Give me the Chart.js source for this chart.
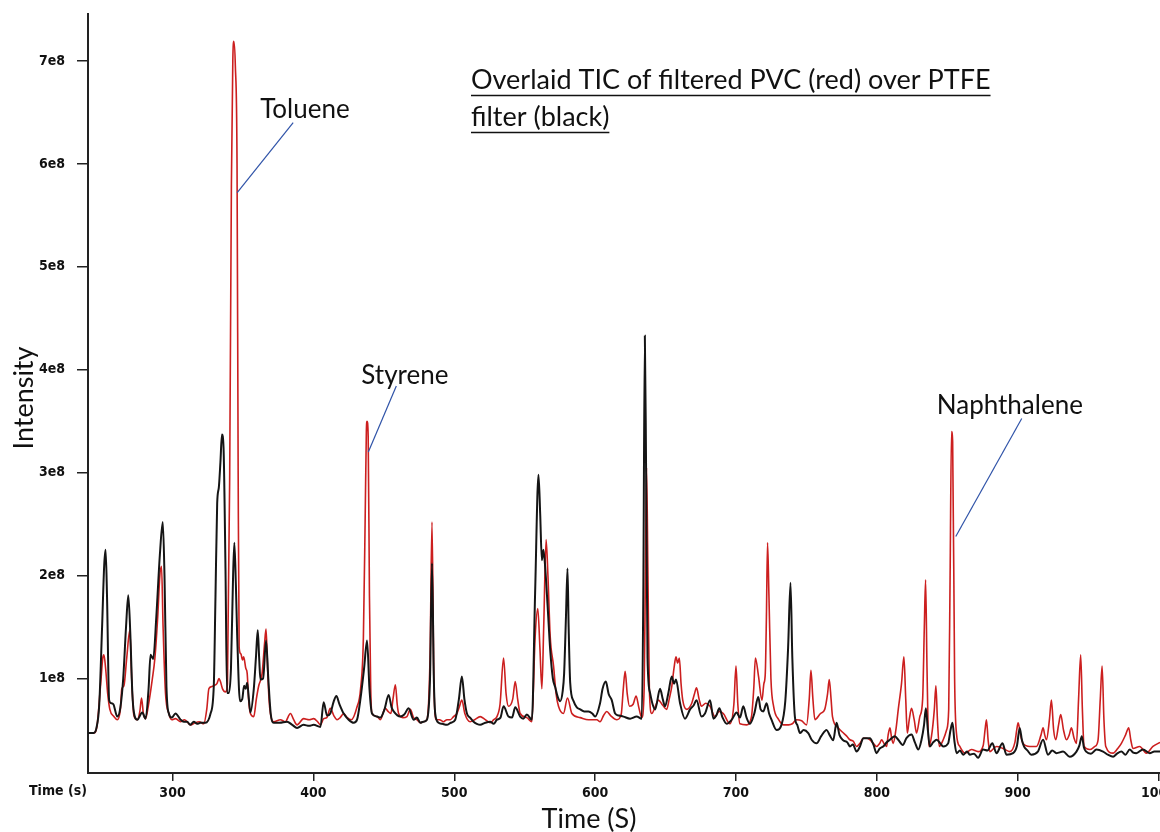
<!DOCTYPE html>
<html>
<head>
<meta charset="utf-8">
<script src="https://cdn.jsdelivr.net/npm/chart.js@4.4.1/dist/chart.umd.min.js"></script>
<style>
  html, body { margin: 0; padding: 0; background: #fff; overflow: hidden; width: 1160px; height: 832px; }
  #wrap { position: absolute; left: 0; top: 0; width: 1200px; height: 832px; }
</style>
</head>
<body>
<div id="wrap"><canvas id="tic" width="1200" height="832"></canvas></div>
<script>
// Retention time (s) and total ion current (units of 1e8) for the PTFE filter blank (black trace)
const ptfeTime = [
  240, 244, 246, 248, 250, 251.5, 252.5, 253.5, 255, 256.5, 258, 260.8, 263, 265, 267, 268.6, 270, 271.5, 272.6, 275,
  278.5, 280.9, 283, 284.4, 286.3, 288.5, 291, 293.1, 294.3, 295.7, 297.4, 299.5, 302.1, 305.7, 308, 310.4, 312.5, 315.1, 317.5, 319.9,
  323.4, 327, 329.3, 330.5, 331.7, 332.9, 334, 335.1, 336.2, 337.6, 338.7, 340, 341.5, 343, 343.9, 345, 345.9, 347.9, 349.5, 350.8,
  352, 353, 354.2, 355.3, 357.7, 359.2, 360.5, 361.5, 362.4, 364.3, 366.4, 368, 369.7, 371.8, 376, 381.3, 385, 388.4, 393, 397,
  400.2, 405, 407.3, 409.7, 412, 414.5, 416.3, 418.5, 421.5, 425, 428.6, 431, 433.3, 436, 438.1, 439.8, 441.6, 445.2, 447.5, 450.5,
  453.4, 455.5, 457, 461.7, 464.5, 467.6, 471.1, 473.5, 475.9, 478, 480.6, 482.8, 484.2, 485.5, 486.5, 488.9, 491.5, 494.8, 497.5, 500.7,
  503.3, 505.4, 507.2, 509, 511.2, 513.7, 516, 518.4, 522, 525.5, 528, 530.3, 532.8, 535, 538.5, 541, 543.3, 546.8, 549, 551.5,
  555.1, 557.4, 559.8, 561, 562.2, 563.3, 564.5, 566.3, 568.1, 570, 571.6, 573.5, 575.2, 577, 578, 579.3, 580.4, 581.2, 582.3, 584.7,
  587, 589.4, 592.2, 595.3, 598, 600, 603.5, 605.3, 607.6, 609.6, 611.8, 614.2, 617, 620.1, 624.8, 629.5, 633.1, 634.2, 635.3, 636.2,
  637.2, 639, 640.8, 642.6, 646.1, 648, 649.6, 652, 654.4, 656, 657.4, 660.3, 663.8, 667.4, 670, 672, 675.5, 678, 681.6, 684,
  686, 688.2, 690.5, 693.4, 697, 700.5, 702.8, 705.2, 707.5, 709.9, 713, 715.8, 717.5, 719.4, 721.7, 723.5, 725.2, 728.8, 732.3, 735,
  737, 738.7, 740, 741.8, 743.5, 745.4, 748, 751.3, 753.7, 757.2, 760.5, 764.3, 766.5, 769, 771.4, 773.5, 776.1, 779, 780.9, 783,
  785.6, 788, 790.4, 792.7, 795.1, 797.5, 799.8, 802, 804.5, 807, 809.3, 812.8, 815.2, 818.4, 821, 824.6, 827, 829.4, 831.7, 833.5,
  834.8, 836.2, 837.6, 840, 842.5, 845, 847.1, 850.6, 852.3, 853.7, 855, 856.6, 859, 861.3, 864, 866, 869, 871.9, 875.4, 878.5,
  882, 884.9, 889.2, 892, 896.7, 899.5, 901.4, 903, 904.5, 907, 909.6, 914.3, 918, 921.5, 924.5, 927.5, 932.2, 936.9, 941.7, 943.8,
  945.5, 947, 948.6, 952, 955.9, 960.6, 964, 967.7, 970.5, 973.6, 976.5, 979.5, 982, 984.2, 988.9, 993.7, 997, 1001
];
const ptfeIntensity = [
  0.47, 0.47, 0.52, 0.75, 1.5, 2.1, 2.25, 1.8, 0.79, 0.76, 0.75, 0.63, 0.72, 1.0, 1.5, 1.81, 1.45, 0.85, 0.67, 0.6,
  0.67, 0.61, 0.9, 1.23, 1.19, 1.6, 2.2, 2.52, 2.0, 0.92, 0.66, 0.62, 0.66, 0.6, 0.58, 0.58, 0.55, 0.58, 0.56, 0.57,
  0.57, 0.66, 0.93, 1.8, 2.7, 2.86, 3.1, 3.37, 3.25, 2.07, 0.86, 0.86, 1.1, 2.0, 2.32, 1.9, 1.42, 0.78, 0.8, 0.93,
  0.9, 0.96, 0.8, 0.67, 0.9, 1.2, 1.47, 1.2, 0.99, 1.0, 1.37, 1.0, 0.66, 0.57, 0.57, 0.58, 0.55, 0.52, 0.55, 0.54,
  0.55, 0.53, 0.77, 0.64, 0.66, 0.78, 0.83, 0.75, 0.66, 0.6, 0.57, 0.6, 0.79, 1.1, 1.37, 0.9, 0.66, 0.63, 0.62, 0.7,
  0.84, 0.72, 0.68, 0.63, 0.65, 0.71, 0.6, 0.62, 0.57, 0.58, 0.6, 1.0, 2.12, 1.0, 0.66, 0.57, 0.56, 0.55, 0.57, 0.6,
  0.8, 1.02, 0.8, 0.66, 0.62, 0.58, 0.56, 0.55, 0.57, 0.58, 0.56, 0.6, 0.62, 0.73, 0.63, 0.62, 0.72, 0.63, 0.61, 0.65,
  0.6, 1.83, 2.98, 2.6, 2.15, 2.25, 2.09, 1.7, 1.28, 1.0, 0.92, 0.82, 0.78, 0.88, 1.05, 1.6, 2.07, 1.5, 0.96, 0.78,
  0.72, 0.7, 0.68, 0.68, 0.66, 0.63, 0.76, 0.9, 0.97, 0.85, 0.79, 0.66, 0.64, 0.63, 0.61, 0.63, 0.61, 1.8, 4.33, 3.0,
  1.2, 0.86, 0.75, 0.7, 0.9, 0.8, 0.73, 0.86, 1.02, 0.95, 0.99, 0.76, 0.61, 0.7, 0.74, 0.79, 0.63, 0.66, 0.79, 0.61,
  0.64, 0.71, 0.62, 0.56, 0.6, 0.67, 0.62, 0.73, 0.62, 0.56, 0.66, 0.82, 0.7, 0.68, 0.76, 0.66, 0.6, 0.5, 0.55, 0.78,
  1.3, 1.93, 1.2, 0.63, 0.55, 0.47, 0.5, 0.47, 0.405, 0.37, 0.44, 0.5, 0.45, 0.4, 0.57, 0.45, 0.4, 0.38, 0.34, 0.36,
  0.29, 0.34, 0.42, 0.42, 0.42, 0.36, 0.275, 0.32, 0.34, 0.38, 0.405, 0.44, 0.405, 0.355, 0.42, 0.455, 0.38, 0.31, 0.405, 0.55,
  0.71, 0.5, 0.34, 0.38, 0.405, 0.37, 0.34, 0.37, 0.5, 0.57, 0.4, 0.275, 0.3, 0.26, 0.29, 0.26, 0.27, 0.23, 0.31, 0.3,
  0.37, 0.275, 0.37, 0.26, 0.275, 0.35, 0.52, 0.4, 0.34, 0.3, 0.26, 0.29, 0.405, 0.26, 0.3, 0.275, 0.29, 0.24, 0.29, 0.35,
  0.44, 0.33, 0.29, 0.27, 0.31, 0.29, 0.26, 0.24, 0.27, 0.29, 0.26, 0.31, 0.28, 0.275, 0.31, 0.275, 0.29, 0.29
];

// Retention time (s) and total ion current (units of 1e8) for the filtered PVC sample (red trace)
const pvcTime = [
  240, 244, 246.5, 249, 250.5, 251.3, 252.5, 254, 255.5, 258.4, 260.8, 263, 264, 265.5, 267.5, 269.7, 271, 272.6, 275, 276.8,
  278, 279.3, 280.9, 283, 285.6, 287.5, 289.5, 291, 292.2, 293.3, 295, 297.4, 299.5, 302.1, 305.7, 308.5, 312.8, 316, 319, 322.2,
  324.3, 325.8, 327.5, 329.3, 331.5, 333, 334, 335.5, 337.6, 339, 340.6, 341.8, 342.8, 343.5, 344.6, 345.8, 346.6, 347.3, 348.5, 349.7,
  350.5, 352, 353, 354, 355.3, 357.7, 359.5, 361.2, 363.6, 365.4, 366.4, 367.5, 368.5, 369.5, 371.8, 376.6, 380, 383.7, 386, 388.4,
  393.1, 397, 400.2, 403, 405, 407.3, 409.5, 412, 414.5, 416.8, 419, 421.5, 424, 427, 430.9, 433.5, 435.5, 436.8, 437.6, 438.1,
  438.9, 439.8, 440.7, 441.6, 445.2, 447.5, 451, 453, 455, 456.5, 458.2, 459.5, 460.5, 463.5, 466.4, 468.8, 471.1, 473.5, 475.9, 478,
  480.6, 482.8, 484.2, 485.5, 487.2, 489.5, 492.4, 494.8, 497.2, 499.5, 501.9, 503.5, 505.4, 507.5, 511.3, 514.5, 518.4, 522, 525.5, 528,
  530.3, 532.5, 535, 536.8, 538.5, 541.5, 543.3, 545, 546.8, 551.5, 555.1, 557.4, 559.3, 560.8, 562.2, 563.5, 565.2, 566.5, 568.1, 570.5,
  572.3, 574, 577.5, 580.4, 583.5, 589.4, 595.3, 601.2, 603.5, 606, 608.3, 611, 615.4, 618.5, 620, 621.3, 622.8, 624.4, 627, 629.1,
  631, 633.1, 634.8, 635.7, 636.5, 637.5, 638.5, 640.2, 642.5, 644.9, 648, 650.8, 652.6, 654.4, 656, 657.4, 658.6, 659.8, 661, 662.2,
  665, 668.6, 670.5, 672, 673.8, 675.5, 678.5, 681.6, 685.1, 688, 691, 695.7, 698.5, 700, 701.3, 702.8, 707.5, 711, 712.6, 713.8,
  716, 718.4, 719.8, 720.8, 721.6, 722.4, 723.4, 724.8, 726.7, 730.3, 733.8, 737.4, 740, 743, 746.6, 750.1, 752, 753.2, 754.6, 756,
  760, 763, 765, 766.2, 767.5, 768.5, 772.7, 775.5, 778.6, 780.9, 783.3, 785.6, 788, 790.4, 792.7, 795.1, 797.5, 799.8, 802, 803.4,
  805, 806.9, 808, 809.3, 810.5, 811.6, 813.5, 815.2, 817.5, 819.2, 820.5, 821.6, 823, 824.6, 826.5, 828.2, 830.5, 832.5, 833.7, 834.6,
  835.6, 836.9, 838.8, 840.8, 841.9, 843, 844.3, 847.1, 849.5, 851, 852, 853, 853.8, 855.2, 856.5, 858.9, 862.5, 867.2, 871.9, 875.5,
  876.8, 877.8, 879, 880.2, 884.9, 889.6, 894.4, 898, 899.3, 900.3, 902, 903.8, 908.6, 913.3, 916.5, 918, 919.2, 920.4, 922.5, 923.9,
  925.5, 927, 929, 930.5, 932.5, 934.6, 936.5, 938.1, 940, 941.7, 943.2, 944.7, 945.9, 947.1, 951.1, 954.7, 957, 958.6, 959.9, 961.2,
  962.5, 967.7, 971, 973.6, 976.5, 978.8, 980.3, 981.8, 986.6, 991.3, 996, 1001
];
const pvcIntensity = [
  0.47, 0.47, 0.55, 0.95, 1.2, 1.23, 1.1, 0.85, 0.7, 0.63, 0.6, 0.7, 0.9, 0.93, 1.2, 1.47, 1.0, 0.64, 0.6, 0.68,
  0.81, 0.66, 0.61, 0.75, 0.99, 1.2, 1.6, 2.0, 2.09, 1.5, 0.86, 0.66, 0.6, 0.61, 0.58, 0.6, 0.55, 0.57, 0.58, 0.56,
  0.7, 0.9, 0.92, 0.93, 0.95, 1.0, 0.97, 0.9, 0.87, 0.95, 3.0, 5.8, 7.0, 7.19, 6.95, 6.0, 3.0, 1.3, 1.24, 1.18,
  1.21, 1.1, 1.05, 0.8, 0.66, 0.63, 0.8, 0.93, 1.05, 1.35, 1.48, 1.1, 0.8, 0.66, 0.58, 0.6, 0.58, 0.66, 0.6, 0.55,
  0.61, 0.6, 0.61, 0.58, 0.55, 0.61, 0.62, 0.71, 0.64, 0.6, 0.62, 0.66, 0.62, 0.6, 0.72, 0.9, 1.4, 2.6, 3.4, 3.5,
  3.35, 1.8, 0.9, 0.66, 0.63, 0.6, 0.71, 0.68, 0.66, 0.8, 0.94, 0.75, 0.66, 0.62, 0.63, 0.7, 0.62, 0.6, 0.57, 0.58,
  0.6, 1.2, 2.52, 1.0, 0.6, 0.6, 0.58, 0.6, 0.6, 0.63, 0.66, 0.72, 0.79, 0.66, 0.58, 0.6, 0.63, 0.6, 0.57, 0.6,
  0.63, 0.75, 1.2, 0.85, 0.73, 0.8, 0.97, 0.8, 0.66, 0.62, 0.58, 1.4, 1.68, 1.3, 0.9, 1.5, 2.35, 2.0, 1.41, 1.12,
  0.85, 0.73, 0.66, 0.81, 0.66, 0.62, 0.6, 0.6, 0.58, 0.64, 0.68, 0.64, 0.6, 0.65, 0.9, 1.07, 0.85, 0.73, 0.75, 0.83,
  0.72, 0.62, 0.9, 2.0, 3.05, 2.0, 0.9, 0.66, 0.72, 0.79, 0.74, 0.7, 0.8, 0.92, 1.1, 1.21, 1.15, 1.2, 0.95, 0.79,
  0.7, 0.76, 0.85, 0.91, 0.8, 0.73, 0.76, 0.73, 0.63, 0.68, 0.66, 0.56, 0.75, 1.12, 0.75, 0.56, 0.55, 0.63, 0.9, 1.2,
  1.02, 0.79, 0.95, 1.05, 1.6, 2.32, 1.8, 1.0, 0.73, 0.6, 0.55, 0.55, 0.56, 0.6, 0.59, 0.55, 0.8, 1.08, 0.8, 0.6,
  0.66, 0.7, 0.85, 0.99, 0.8, 0.63, 0.52, 0.48, 0.44, 0.405, 0.39, 0.34, 0.37, 0.42, 0.42, 0.405, 0.37, 0.34, 0.37, 0.405,
  0.37, 0.34, 0.45, 0.52, 0.42, 0.37, 0.5, 0.7, 0.95, 1.21, 0.8, 0.47, 0.6, 0.71, 0.6, 0.47, 0.63, 0.8, 1.5, 1.96,
  1.1, 0.34, 0.44, 0.7, 0.93, 0.6, 0.34, 0.405, 0.5, 0.7, 2.0, 3.4, 3.3, 1.0, 0.47, 0.34, 0.275, 0.31, 0.29, 0.35,
  0.5, 0.6, 0.4, 0.29, 0.34, 0.32, 0.29, 0.38, 0.5, 0.57, 0.45, 0.37, 0.34, 0.34, 0.45, 0.52, 0.45, 0.405, 0.6, 0.79,
  0.5, 0.405, 0.55, 0.65, 0.5, 0.405, 0.45, 0.52, 0.42, 0.37, 0.8, 1.23, 0.7, 0.34, 0.31, 0.34, 0.4, 0.8, 1.12, 0.6,
  0.34, 0.275, 0.32, 0.37, 0.45, 0.52, 0.4, 0.32, 0.34, 0.275, 0.34, 0.38
];

// Axis ticks
const timeTicks = [300, 400, 500, 600, 700, 800, 900, 1000];
const intensityTicks = [1, 2, 3, 4, 5, 6, 7];

// Labelled compounds: where each leader line meets its peak
const compoundNames = ['Toluene', 'Styrene', 'Naphthalene'];
const compoundTimes = [345.9, 439.0, 856.0];
const compoundIntensities = [5.72, 3.2, 2.38];

// Leader geometry and text placement, in pixels relative to the leader tip
const leaderStart = [[56, -70], [28, -66], [66, -118]];
const labelAnchor = [[23, -75], [-7, -68], [-19, -122]];

const toPoints = (ts, vs) => ts.map((t, i) => ({ x: t, y: vs[i] }));

const FONT_TEXT = 'Lato, "Open Sans", sans-serif';
const FONT_TICK = '"Liberation Sans Narrow", "DejaVu Sans Condensed", "Liberation Sans", sans-serif';

const annotationPlugin = {
  id: 'ticText',
  afterDraw(chart) {
    const ctx = chart.ctx;
    const xs = chart.scales.x, ys = chart.scales.y;
    ctx.save();

    // Leader lines and compound names
    compoundNames.forEach((name, i) => {
      const px = xs.getPixelForValue(compoundTimes[i]);
      const py = ys.getPixelForValue(compoundIntensities[i]);
      ctx.strokeStyle = '#2f53a8';
      ctx.lineWidth = 1.2;
      ctx.beginPath();
      ctx.moveTo(px + leaderStart[i][0], py + leaderStart[i][1]);
      ctx.lineTo(px, py);
      ctx.stroke();
      ctx.fillStyle = '#111';
      ctx.font = '26px ' + FONT_TEXT;
      ctx.textAlign = 'left';
      ctx.textBaseline = 'alphabetic';
      ctx.fillText(name, px + labelAnchor[i][0], py + labelAnchor[i][1]);
    });

    // Underlined heading
    const heading = ['Overlaid TIC of filtered PVC (red) over PTFE', 'filter (black)'];
    const baselines = [89, 126];
    ctx.font = '27px ' + FONT_TEXT;
    ctx.fillStyle = '#111';
    ctx.strokeStyle = '#111';
    ctx.lineWidth = 1.6;
    heading.forEach((line, i) => {
      ctx.fillText(line, 471, baselines[i]);
      const w = ctx.measureText(line).width;
      ctx.beginPath();
      ctx.moveTo(471, baselines[i] + 6.5);
      ctx.lineTo(471 + w, baselines[i] + 6.5);
      ctx.stroke();
    });

    // Axis titles
    ctx.font = '27px ' + FONT_TEXT;
    ctx.textAlign = 'center';
    ctx.textBaseline = 'middle';
    ctx.fillText('Time (S)', 589, 819);
    ctx.save();
    ctx.translate(24, 398);
    ctx.rotate(-Math.PI / 2);
    ctx.fillText('Intensity', 0, 0);
    ctx.restore();

    // Axis unit at the origin of the time axis
    ctx.font = 'bold 14px ' + FONT_TICK;
    ctx.textAlign = 'right';
    ctx.fillText('Time (s)', 87, 791);
    ctx.restore();
  }
};

new Chart(document.getElementById('tic'), {
  type: 'line',
  data: {
    datasets: [
      {
        label: 'PTFE filter',
        data: toPoints(ptfeTime, ptfeIntensity),
        borderColor: '#151515',
        borderWidth: 2,
        pointRadius: 0,
        cubicInterpolationMode: 'monotone',
        fill: false
      },
      {
        label: 'Filtered PVC',
        data: toPoints(pvcTime, pvcIntensity),
        borderColor: '#cc1f1f',
        borderWidth: 1.6,
        pointRadius: 0,
        cubicInterpolationMode: 'monotone',
        fill: false
      }
    ]
  },
  options: {
    responsive: false,
    devicePixelRatio: 1,
    animation: false,
    events: [],
    layout: { padding: { top: 14, right: 40, left: 0, bottom: 0 } },
    plugins: { legend: { display: false }, tooltip: { enabled: false }, title: { display: false } },
    scales: {
      x: {
        type: 'linear',
        min: 240,
        max: 1001,
        afterBuildTicks: s => { s.ticks = timeTicks.map(v => ({ value: v })); },
        afterFit: s => { s.height = 59; s.paddingLeft = 0; s.paddingRight = 0; },
        border: { display: true, color: '#222', width: 2 },
        grid: { display: true, drawOnChartArea: false, drawTicks: true, tickLength: 8, color: '#222', lineWidth: 1.5 },
        ticks: {
          autoSkip: false,
          maxRotation: 0,
          padding: 4,
          color: '#111',
          font: { family: FONT_TICK, size: 14, weight: 'bold' },
          callback: v => String(v)
        }
      },
      y: {
        type: 'linear',
        min: 0.082,
        max: 7.456,
        afterBuildTicks: s => { s.ticks = intensityTicks.map(v => ({ value: v })); },
        afterFit: s => { s.width = 88; s.paddingTop = 0; s.paddingBottom = 0; },
        border: { display: true, color: '#222', width: 2 },
        grid: { display: true, drawOnChartArea: false, drawTicks: true, tickLength: 11, color: '#222', lineWidth: 1.5 },
        ticks: {
          padding: 12,
          color: '#111',
          font: { family: FONT_TICK, size: 14, weight: 'bold' },
          callback: v => v + 'e8'
        }
      }
    }
  },
  plugins: [annotationPlugin]
});
</script>
</body>
</html>
